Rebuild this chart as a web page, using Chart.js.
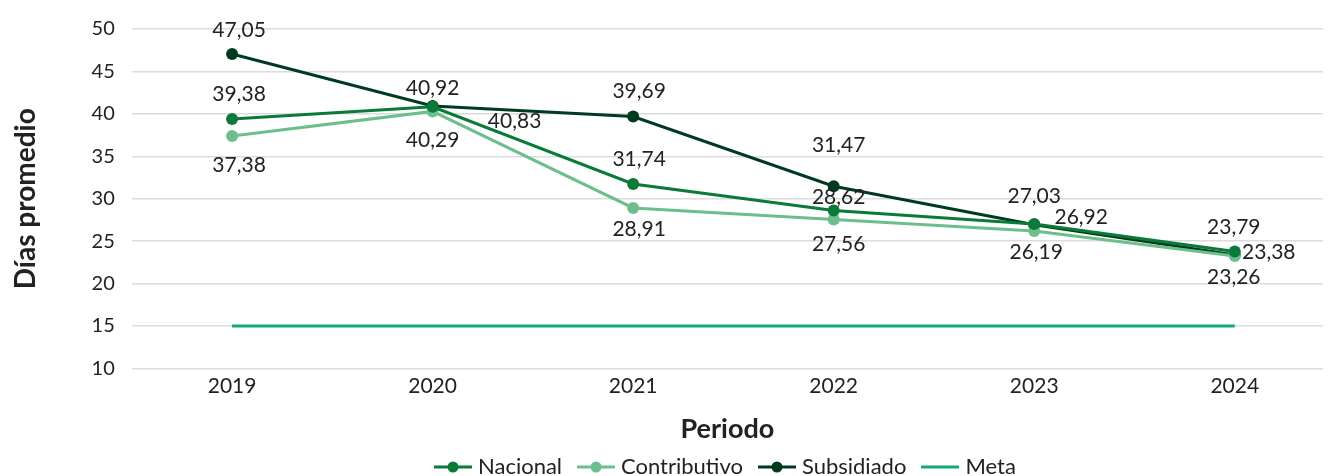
<!DOCTYPE html>
<html>
<head>
<meta charset="utf-8">
<script src="https://cdn.jsdelivr.net/npm/chart.js@4"></script>
<style>
  html, body { margin: 0; padding: 0; background: #fff; }
  #wrap { width: 1329px; height: 476px; }
</style>
</head>
<body>
<div id="wrap"><canvas id="chart"></canvas></div>
<script>
const years = [2019, 2020, 2021, 2022, 2023, 2024];
const nacional = [39.38, 40.83, 31.74, 28.62, 27.03, 23.79];
const contributivo = [37.38, 40.29, 28.91, 27.56, 26.19, 23.26];
const subsidiado = [47.05, 40.92, 39.69, 31.47, 26.92, 23.38];
const meta = [15, 15, 15, 15, 15, 15];
const yTicks = [10, 15, 20, 25, 30, 35, 40, 45, 50];

const FONT = 'Lato, "Noto Sans", sans-serif';
const TEXT = '#222';

// legend icon: short line with a dot in the middle
function legendIcon(color, dot) {
  const c = document.createElement('canvas');
  c.width = 38; c.height = 14;
  const g = c.getContext('2d');
  g.strokeStyle = color; g.lineWidth = 3;
  g.beginPath(); g.moveTo(0, 7); g.lineTo(38, 7); g.stroke();
  if (dot) { g.fillStyle = color; g.beginPath(); g.arc(19, 7, 5.5, 0, Math.PI * 2); g.fill(); }
  return c;
}

// value labels with offsets from each point
const valueLabels = {
  id: 'valueLabels',
  afterDatasetsDraw(chart) {
    const ctx = chart.ctx;
    ctx.save();
    ctx.font = '21px ' + FONT;
    ctx.fillStyle = TEXT;
    ctx.textAlign = 'center';
    ctx.textBaseline = 'middle';
    chart.data.datasets.forEach((ds, di) => {
      if (!ds.labelOffsets) return;
      chart.getDatasetMeta(di).data.forEach((pt, i) => {
        const [dx, dy] = ds.labelOffsets[i];
        ctx.fillText(ds.data[i].y.toFixed(2).replace('.', ','), pt.x + dx, pt.y + dy);
      });
    });
    ctx.restore();
  }
};

const pts = arr => arr.map((v, i) => ({ x: years[i], y: v }));

function series(label, data, color, offsets) {
  return {
    label, data: pts(data),
    borderColor: color, backgroundColor: color,
    borderWidth: 3, pointRadius: 6, pointHoverRadius: 6,
    pointBorderWidth: 0, pointStyle: 'circle',
    labelOffsets: offsets,
    icon: legendIcon(color, true)
  };
}

new Chart(document.getElementById('chart'), {
  type: 'line',
  data: {
    datasets: [
      series('Nacional', nacional, '#0a7a38',
        [[7, -25], [82, 14], [6, -25], [5, -13], [0, -28], [-1, -24]]),
      series('Contributivo', contributivo, '#6cbf8c',
        [[7, 29], [0, 29], [6, 21], [5, 25], [2, 21], [-1, 21]]),
      series('Subsidiado', subsidiado, '#003b20',
        [[7, -24], [0, -18], [6, -25], [5, -41], [47, -8], [34, -3]]),
      {
        label: 'Meta', data: pts(meta),
        borderColor: '#13a87b', backgroundColor: '#13a87b',
        borderWidth: 3, pointRadius: 0, pointHoverRadius: 0,
        icon: legendIcon('#13a87b', false)
      }
    ]
  },
  options: {
    responsive: true,
    maintainAspectRatio: false,
    animation: false,
    layout: { padding: { left: 9, right: 0, top: 2, bottom: -12 } },
    plugins: {
      legend: {
        position: 'bottom',
        fullSize: false,
        labels: {
          usePointStyle: true,
          pointStyleWidth: 28,
          color: TEXT,
          font: { family: FONT, size: 22 },
          padding: 20,
          generateLabels: chart => Chart.defaults.plugins.legend.labels.generateLabels(chart)
            .map(item => ({ ...item, pointStyle: chart.data.datasets[item.datasetIndex].icon }))
        }
      },
      tooltip: { enabled: false }
    },
    scales: {
      x: {
        type: 'linear',
        min: 2018.5,
        max: 2024.44,
        grid: { display: false },
        border: { display: false },
        afterBuildTicks: s => { s.ticks = years.map(v => ({ value: v })); },
        ticks: {
          color: TEXT,
          font: { family: FONT, size: 21 },
          padding: -3,
          callback: v => String(v)
        },
        title: {
          display: true, text: 'Periodo', color: TEXT,
          font: { family: FONT, size: 27, weight: 'bold' },
          padding: { top: 17, bottom: -9 }
        }
      },
      y: {
        min: yTicks[0],
        max: yTicks[yTicks.length - 1],
        afterBuildTicks: s => { s.ticks = yTicks.map(v => ({ value: v })); },
        grid: { color: '#dcdcdc', lineWidth: 1.5, drawTicks: false },
        border: { display: false },
        ticks: {
          color: TEXT,
          font: { family: FONT, size: 20 },
          padding: 17
        },
        title: {
          display: true, text: 'Días promedio', color: TEXT,
          font: { family: FONT, size: 28, weight: 'bold' },
          padding: { top: 0, bottom: 32 }
        }
      }
    }
  },
  plugins: [valueLabels]
});
</script>
</body>
</html>
